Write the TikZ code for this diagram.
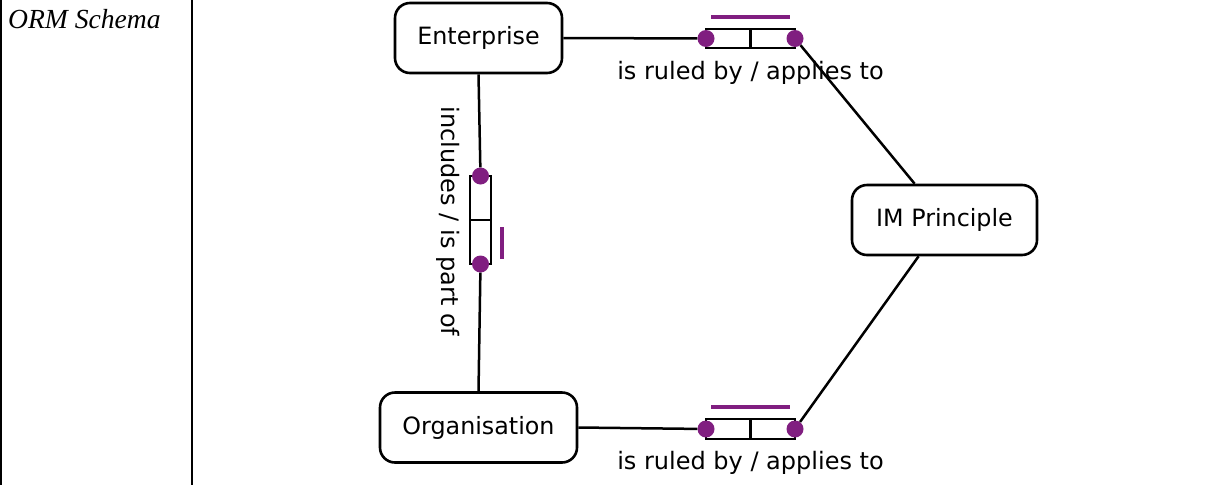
\documentclass[tikz,border=0pt]{standalone}
\usepackage{fontspec}
\setmainfont{Liberation Serif}
\newfontfamily\diafont{DejaVu Sans}
\definecolor{ormpurple}{RGB}{128,30,128}
\begin{document}
\begin{tikzpicture}[x=1pt,y=-1pt,
  entity/.style={draw,line width=2.6pt,rounded corners=15pt,minimum height=70pt,inner sep=0pt,font=\diafont\fontsize{23.8}{28}\selectfont},
  rolebox/.style={draw,line width=2.4pt,minimum width=44.5pt,minimum height=19.5pt,inner sep=0pt},
  vrolebox/.style={draw,line width=2.4pt,minimum width=21pt,minimum height=44pt,inner sep=0pt},
  roledot/.style={circle,fill=ormpurple,minimum size=17pt,inner sep=0pt},
  uniq/.style={ormpurple,line width=3.2pt},
  conn/.style={line width=2.5pt},
  lbl/.style={font=\diafont\fontsize{24}{28}\selectfont,inner sep=0pt}]
\useasboundingbox (0,0) rectangle (1225,485);
% table frame
\draw[line width=2pt] (1,0) -- (1,485);
\draw[line width=2pt] (192,0) -- (192,485);
\node[anchor=base west,inner sep=0pt,font=\itshape\fontsize{27.6}{32}\selectfont] (title) at (8,28) {ORM Schema};
% entities
\node[entity,minimum width=167pt] (ent) at (478.5,38) {Enterprise};
\node[entity,minimum width=197pt] (org) at (478.5,427.5) {Organisation};
\node[entity,minimum width=185pt] (imp) at (944.5,220) {IM Principle};
% top role
\node[rolebox] (t1) at (728.25,38.5) {};
\node[rolebox] (t2) at (772.75,38.5) {};
\node[roledot] (t1d) at (706,38.5) {};
\node[roledot] (t2d) at (795,38.5) {};
\draw[uniq] (711,17) -- (790,17);
\node[lbl,anchor=base] (tl) at (750.5,79) {is ruled by / applies to};
% bottom role
\node[rolebox] (b1) at (728.25,429) {};
\node[rolebox] (b2) at (772.75,429) {};
\node[roledot] (b1d) at (706,429) {};
\node[roledot] (b2d) at (795,429) {};
\draw[uniq] (711,407) -- (790,407);
\node[lbl,anchor=base] (bl) at (750.5,469) {is ruled by / applies to};
% vertical role
\node[vrolebox] (v1) at (480.5,198) {};
\node[vrolebox] (v2) at (480.5,242) {};
\node[roledot] (v1d) at (480.5,176) {};
\node[roledot] (v2d) at (480.5,264) {};
\draw[uniq] (502,227) -- (502,259);
\node[lbl,rotate=-90,anchor=base] (vl) at (441,221.5) {includes / is part of};
% connectors
\draw[conn] (ent.east) -- (t1d);
\draw[conn] (t2d) -- (imp);
\draw[conn] (imp) -- (b2d);
\draw[conn] (org.east) -- (b1d);
\draw[conn] (ent.south) -- (v1d);
\draw[conn] (v2d) -- (org.north);
\end{tikzpicture}
\end{document}
